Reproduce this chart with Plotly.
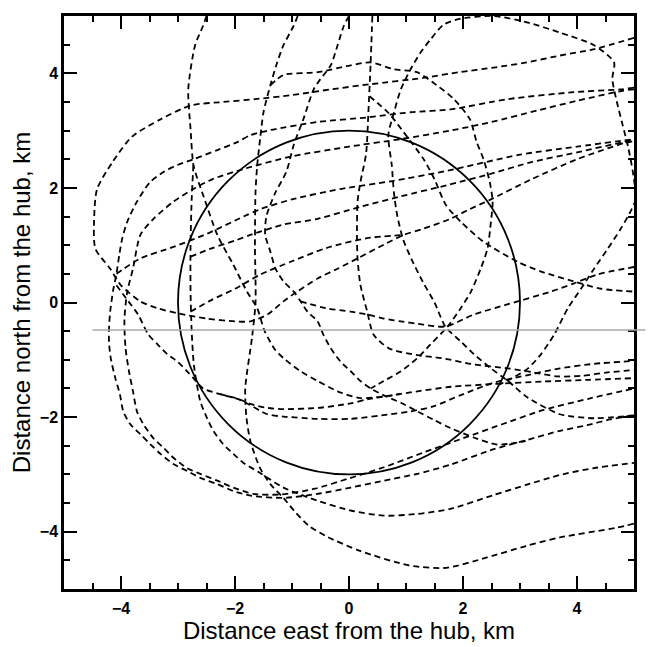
import plotly.graph_objects as go

# ---- data: tracks (km east, km north) ----
track_01 = [(5.0,4.62),(4.3,4.42),(3.7,4.31),(3.12,4.19),(2.54,4.10),(1.94,4.02),(1.3,3.92),(0.38,3.81),(-0.32,3.72),(-1.0,3.62),(-1.64,3.55),(-2.2,3.5),(-2.77,3.44),(-3.3,3.2),(-3.8,2.9),(-4.15,2.45),(-4.42,1.98),(-4.47,1.5),(-4.45,0.94),(-4.19,0.59),(-4.0,0.3),(-3.66,0.02),(-3.36,-0.10),(-3.0,-0.19),(-2.5,-0.28),(-2.0,-0.33),(-1.73,-0.33),(-1.43,-0.21),(-1.15,0.02),(-0.91,0.19),(-0.55,0.42),(-0.20,0.59),(0.15,0.77),(0.61,1.01),(0.96,1.18),(1.31,1.29),(1.78,1.46),(2.1,1.62),(2.49,1.8),(3.2,2.15),(4.0,2.5),(4.82,2.78),(5.0,2.82)]
track_02 = [(-2.5,5.0),(-2.56,4.83),(-2.70,4.49),(-2.82,3.72),(-2.78,3.03),(-2.73,2.40),(-2.66,2.16),(-2.55,1.85),(-2.31,1.18),(-2.03,0.66),(-1.79,0.19),(-1.61,-0.10),(-1.48,-0.5),(-1.3,-0.82),(-1.15,-0.97),(-0.85,-1.20),(-0.55,-1.37),(-0.20,-1.55),(0.20,-1.67),(0.6,-1.64),(1.2,-1.55),(1.8,-1.47),(2.6,-1.42),(3.4,-1.38),(4.2,-1.35),(5.0,-1.32)]
track_03 = [(-2.73,2.4),(-2.76,1.8),(-2.78,1.0),(-2.78,0.2),(-2.76,-0.5),(-2.72,-1.1),(-2.61,-1.72),(-2.49,-2.02),(-2.38,-2.24),(-2.21,-2.47),(-2.03,-2.64),(-1.85,-2.8),(-1.6,-2.95),(-1.15,-3.23),(-0.55,-3.46),(0.03,-3.63),(0.61,-3.72),(1.20,-3.69),(1.78,-3.60),(2.54,-3.36),(3.12,-3.18),(3.70,-3.01),(4.30,-2.89),(5.0,-2.8)]
track_04 = [(5.0,3.75),(4.77,3.72),(3.94,3.67),(2.79,3.55),(1.78,3.37),(1.08,3.32),(0.32,3.23),(-0.55,3.15),(-1.38,3.01),(-1.73,2.92),(-1.96,2.8),(-2.31,2.66),(-2.73,2.50),(-3.01,2.40),(-3.25,2.28),(-3.49,2.10),(-3.72,1.76),(-3.89,1.41),(-3.98,1.11),(-4.03,0.83),(-4.08,0.5),(-4.14,0.2),(-4.19,-0.16),(-4.21,-0.45),(-4.21,-0.7),(-4.18,-0.97),(-4.10,-1.32),(-4.02,-1.6),(-3.96,-1.90),(-3.84,-2.12),(-3.66,-2.30),(-3.49,-2.47),(-3.31,-2.64),(-3.08,-2.82),(-2.84,-2.94),(-2.61,-3.06),(-2.31,-3.17),(-2.03,-3.29),(-1.73,-3.37),(-1.15,-3.41),(-0.55,-3.34),(0.03,-3.23),(0.61,-3.11),(1.20,-2.99),(1.78,-2.83),(2.54,-2.56),(3.12,-2.40),(3.70,-2.24),(4.18,-2.14),(4.58,-2.04),(5.0,-1.97)]
track_05 = [(5.0,3.72),(4.82,3.70),(4.0,3.52),(3.3,3.35),(2.5,3.15),(1.78,3.0),(0.9,2.85),(0.0,2.72),(-1.0,2.55),(-1.85,2.33),(-2.4,2.15),(-2.73,1.98),(-3.08,1.76),(-3.43,1.46),(-3.66,1.18),(-3.79,0.59),(-3.89,0.19),(-3.94,-0.3),(-3.92,-0.8),(-3.86,-1.2),(-3.79,-1.55),(-3.72,-1.90),(-3.61,-2.12),(-3.43,-2.37),(-3.25,-2.54),(-3.08,-2.71),(-2.84,-2.89),(-2.61,-2.99),(-2.31,-3.11),(-2.03,-3.23),(-1.68,-3.34),(-1.2,-3.35),(-0.6,-3.25),(0.0,-3.07),(0.6,-2.88),(1.3,-2.62),(2.0,-2.37),(2.7,-2.12),(3.4,-1.88),(4.2,-1.68),(5.0,-1.5)]
track_06 = [(-0.9,5.0),(-0.97,4.83),(-1.15,4.49),(-1.26,4.19),(-1.38,3.79),(-1.50,3.32),(-1.56,2.85),(-1.61,2.40),(-1.64,1.93),(-1.65,1.0),(-1.64,0.0),(-1.7,-0.6),(-1.82,-1.5),(-1.8,-2.0),(-1.73,-2.42),(-1.56,-2.89),(-1.38,-3.17),(-1.15,-3.41),(-0.95,-3.65),(-0.70,-3.90),(-0.40,-4.08),(0.18,-4.33),(1.06,-4.59),(1.71,-4.63),(2.42,-4.45),(3.10,-4.25),(3.70,-4.10),(4.70,-3.93),(5.0,-3.86)]
track_07 = [(0.0,5.0),(-0.09,4.83),(-0.2,4.49),(-0.32,4.14),(-0.50,3.9),(-0.62,3.72),(-0.8,3.2),(-0.97,2.75),(-1.1,2.28),(-1.3,1.9),(-1.45,1.5),(-1.47,1.18),(-1.38,0.89),(-1.29,0.59),(-1.15,0.37),(-0.97,0.19),(-0.85,0.02),(-0.73,-0.16),(-0.55,-0.33),(-0.45,-0.56),(-0.32,-0.80),(-0.15,-1.03),(0.03,-1.20),(0.20,-1.37),(0.38,-1.50),(0.61,-1.62),(0.91,-1.75),(1.20,-1.90),(1.49,-2.05),(1.78,-2.19),(2.2,-2.36),(2.6,-2.48),(3.1,-2.42)]
track_08 = [(0.41,5.0),(0.38,4.19),(0.34,3.32),(0.3,2.6),(0.2,2.1),(0.15,1.76),(0.14,1.18),(0.15,0.77),(0.2,0.31),(0.32,-0.16),(0.43,-0.56),(0.7,-0.8),(1.2,-0.92),(1.62,-0.97),(2.19,-1.08),(2.79,-1.15),(3.24,-1.22),(3.66,-1.29),(4.07,-1.28),(4.54,-1.22),(5.0,-1.18)]
track_09 = [(5.0,-1.97),(4.3,-2.02),(3.7,-1.95),(3.12,-1.65),(2.79,-1.37),(2.49,-1.15),(2.19,-0.90),(1.96,-0.68),(1.69,-0.42),(1.5,0.0),(1.3,0.35),(1.1,0.75),(0.95,1.1),(0.85,1.5),(0.79,1.9),(0.75,2.4),(0.69,2.92),(0.79,3.32),(0.91,3.72),(1.08,4.07),(1.26,4.37),(1.43,4.59),(1.66,4.85),(1.94,4.95),(2.54,5.0),(3.12,4.89),(3.70,4.71),(4.30,4.49),(4.65,4.19),(4.62,3.9),(4.7,3.5),(4.8,3.1),(4.9,2.7),(4.98,2.28),(5.03,1.81),(4.96,1.63),(4.77,1.29),(4.54,0.94),(4.30,0.59),(4.07,0.24),(3.84,-0.10),(3.60,-0.56),(3.37,-0.90),(3.14,-1.15),(2.9,-1.3),(2.64,-1.43)]
track_10 = [(-1.38,3.79),(-1.15,3.97),(-0.55,4.02),(0.03,4.14),(0.38,4.19),(0.79,4.07),(1.19,4.02),(1.54,3.79),(1.84,3.55),(2.12,3.20),(2.24,2.80),(2.36,2.50),(2.47,2.10),(2.52,1.76),(2.49,1.41),(2.43,0.94),(2.31,0.59),(2.14,0.19),(1.96,-0.10),(1.73,-0.42),(1.43,-0.73),(1.20,-0.97),(0.91,-1.20),(0.61,-1.37),(0.38,-1.5)]
track_11 = [(0.36,3.6),(0.7,3.3),(0.96,2.97),(1.31,2.50),(1.5,2.15),(1.7,1.7),(1.96,1.41),(2.36,1.06),(2.96,0.71),(3.37,0.54),(3.94,0.37),(4.42,0.24),(5.0,0.19)]
track_12 = [(-4.08,0.5),(-3.66,0.77),(-3.08,0.97),(-2.49,1.2),(-1.85,1.5),(-1.55,1.63),(-1.0,1.8),(-0.15,1.98),(0.76,2.12),(1.73,2.3),(3.0,2.58),(4.0,2.72),(5.0,2.85)]
track_13 = [(-2.78,0.8),(-2.4,0.95),(-2.0,1.08),(-1.73,1.18),(-1.15,1.36),(-0.55,1.46),(0.2,1.67),(0.9,1.85),(1.73,2.05),(2.5,2.25),(3.2,2.45),(4.0,2.62),(4.82,2.80),(5.0,2.83)]
track_14 = [(-2.78,-0.16),(-2.4,0.05),(-2.0,0.24),(-1.55,0.49),(-1.0,0.72),(-0.4,0.95),(0.3,1.12),(0.96,1.18)]
track_15 = [(-0.85,0.02),(-0.4,-0.1),(0.03,-0.16),(0.32,-0.21),(0.61,-0.28),(0.91,-0.33),(1.20,-0.37),(1.69,-0.42),(2.19,-0.21),(2.79,-0.03),(3.54,0.19),(3.94,0.33),(4.36,0.49),(5.0,0.62)]
track_16 = [(-4.08,0.3),(-3.87,0.02),(-3.70,-0.21),(-3.52,-0.56),(-3.36,-0.73),(-3.19,-0.90),(-3.01,-1.03),(-2.84,-1.20),(-2.73,-1.32),(-2.56,-1.50),(-2.26,-1.60),(-1.91,-1.70),(-1.43,-1.95),(-1.15,-1.99),(-0.55,-2.03),(0.03,-2.03),(0.73,-1.95),(1.08,-1.90),(1.49,-1.81),(1.95,-1.62),(2.54,-1.40),(3.12,-1.27),(3.70,-1.15),(4.30,-1.07),(5.0,-1.02)]
track_17 = [(-2.26,-1.60),(-1.95,-1.68),(-1.73,-1.77),(-1.43,-1.84),(-1.15,-1.86),(-0.55,-1.84),(0.03,-1.76),(0.32,-1.69),(0.9,-1.6)]

tracks = [track_01, track_02, track_03, track_04, track_05, track_06, track_07, track_08,
          track_09, track_10, track_11, track_12, track_13, track_14, track_15, track_16, track_17]

hub_radius_km = 3.0
reference_line_north = -0.48
reference_line_east = [-4.5, 5.2]

axis_range = [-5, 5]
x_ticks = [-4, -2, 0, 2, 4]
y_ticks = [-4, -2, 0, 2, 4]

fig = go.Figure()
for tr in tracks:
    fig.add_trace(go.Scatter(
        x=[p[0] for p in tr], y=[p[1] for p in tr], mode="lines",
        line=dict(color="black", width=1.8, dash="6px,4px", shape="spline", smoothing=0.7),
        hoverinfo="skip", showlegend=False, cliponaxis=True))

fig.add_shape(type="circle", xref="x", yref="y",
              x0=-hub_radius_km, y0=-hub_radius_km, x1=hub_radius_km, y1=hub_radius_km,
              line=dict(color="black", width=1.8))

span = axis_range[1] - axis_range[0]
fig.add_shape(type="line", xref="paper", yref="y",
              x0=(reference_line_east[0] - axis_range[0]) / span,
              x1=(reference_line_east[1] - axis_range[0]) / span,
              y0=reference_line_north, y1=reference_line_north,
              line=dict(color="#a8a8a8", width=1.4))

axis_common = dict(
    range=axis_range, showgrid=False, zeroline=False, showline=True, linecolor="black",
    linewidth=2.5, mirror="allticks", ticks="inside", ticklen=13, tickwidth=2, tickcolor="black",
    minor=dict(ticks="inside", dtick=0.5, ticklen=6, tickwidth=1.5, tickcolor="black"),
    tickfont=dict(family="Liberation Sans", size=16, color="black", weight="bold"),
    title_font=dict(family="Liberation Sans", size=24, color="black"),
)
fig.update_xaxes(**axis_common, tickvals=x_ticks, title_text="Distance east from the hub, km",
                 title_standoff=6, ticklabelstandoff=3)
fig.update_yaxes(**axis_common, tickvals=y_ticks, title_text="Distance north from the hub, km",
                 title_standoff=3)

fig.update_layout(
    width=656, height=647, plot_bgcolor="white", paper_bgcolor="white",
    margin=dict(l=56, r=30, t=5, b=66),
)
fig.write_html("out.html")
